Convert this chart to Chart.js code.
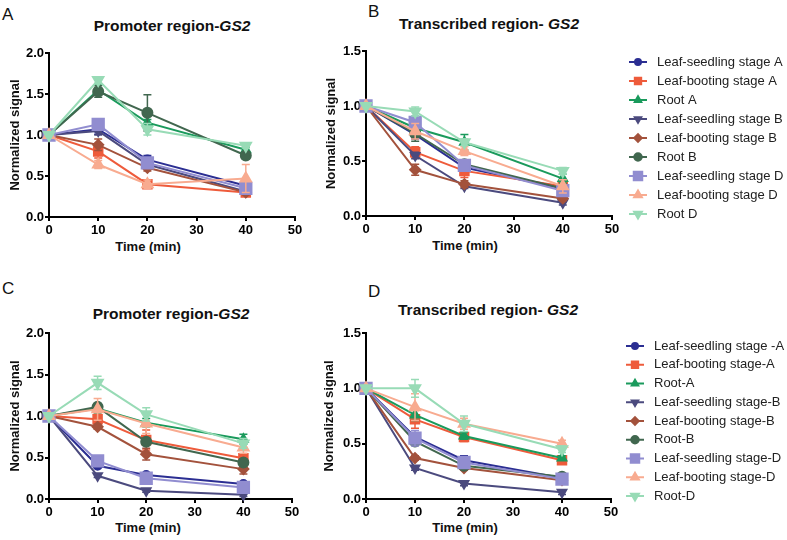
<!DOCTYPE html>
<html>
<head>
<meta charset="utf-8">
<script src="https://cdn.jsdelivr.net/npm/chart.js@4.4.1/dist/chart.umd.min.js"></script>
<style>
  body { margin: 0; background: #fff; width: 787px; height: 540px; position: relative; overflow: hidden; font-family: "Liberation Sans", Arial, sans-serif; }
  canvas { position: absolute; }
  .lbl { position: absolute; color: #111; white-space: nowrap; line-height: 1; }
  .letter { font-size: 17px; }
  .ttl { font-size: 15.5px; font-weight: bold; transform: translate(-50%, -50%); }
  .xt { font-size: 13px; font-weight: bold; transform: translate(-50%, -50%); }
</style>
</head>
<body>
<div class="lbl letter" style="left:2px;top:6px">A</div>
<div class="lbl letter" style="left:368px;top:3px">B</div>
<div class="lbl letter" style="left:2px;top:280px">C</div>
<div class="lbl letter" style="left:368px;top:283px">D</div>

<div class="lbl ttl" style="left:172px;top:26px">Promoter region-<i>GS2</i></div>
<div class="lbl ttl" style="left:489px;top:24px">Transcribed region- <i>GS2</i></div>
<div class="lbl ttl" style="left:171px;top:314px">Promoter region-<i>GS2</i></div>
<div class="lbl ttl" style="left:488px;top:310px">Transcribed region- <i>GS2</i></div>

<div class="lbl xt" style="left:148px;top:246px">Time (min)</div>
<div class="lbl xt" style="left:465px;top:245px">Time (min)</div>
<div class="lbl xt" style="left:148px;top:527px">Time (min)</div>
<div class="lbl xt" style="left:465px;top:527px">Time (min)</div>

<canvas id="chartA" width="310" height="270" style="left:0;top:0"></canvas>
<canvas id="chartB" width="471" height="270" style="left:316px;top:0"></canvas>
<canvas id="chartC" width="310" height="270" style="left:0;top:270px"></canvas>
<canvas id="chartD" width="471" height="270" style="left:316px;top:270px"></canvas>

<script>
// sampling times (min)
const times = [0, 10, 20, 40];

const seriesNamesTop = ['Leaf-seedling stage A', 'Leaf-booting stage A', 'Root A',
    'Leaf-seedling stage B', 'Leaf-booting stage B', 'Root B',
    'Leaf-seedling stage D', 'Leaf-booting stage D', 'Root D'];
const seriesNamesBottom = ['Leaf-seedling stage -A', 'Leaf-booting stage-A', 'Root-A',
    'Leaf-seedling stage-B', 'Leaf-booting stage-B', 'Root-B',
    'Leaf-seedling stage-D', 'Leaf-booting stage-D', 'Root-D'];

// rows follow the series order above
const promoterTopValues = [
    [1, 1.07, 0.70, 0.38],
    [1, 0.80, 0.40, 0.30],
    [1, 1.55, 1.15, 0.82],
    [1, 1.05, 0.64, 0.31],
    [1, 0.88, 0.60, 0.30],
    [1, 1.53, 1.27, 0.75],
    [1, 1.13, 0.66, 0.35],
    [1, 0.64, 0.40, 0.47],
    [1, 1.67, 1.07, 0.87],
];
const promoterTopErrors = [
    [0, 0.06, 0.05, 0.05],
    [0, 0.08, 0.03, 0.03],
    [0, 0.06, 0.04, 0.03],
    [0, 0.05, 0.04, 0.03],
    [0, 0.07, 0.04, 0.03],
    [0, 0.07, 0.22, 0.04],
    [0, 0.05, 0.04, 0.04],
    [0, 0.05, 0.05, 0.17],
    [0, 0.04, 0.07, 0.03],
];
const transcribedTopValues = [
    [1, 0.74, 0.44, 0.25],
    [1, 0.58, 0.41, 0.27],
    [1, 0.80, 0.67, 0.34],
    [1, 0.55, 0.27, 0.12],
    [1, 0.42, 0.29, 0.16],
    [1, 0.75, 0.47, 0.25],
    [1, 0.85, 0.46, 0.23],
    [1, 0.77, 0.59, 0.27],
    [1, 0.95, 0.67, 0.41],
];
const transcribedTopErrors = [
    [0, 0.04, 0.03, 0.02],
    [0, 0.05, 0.06, 0.04],
    [0, 0.03, 0.07, 0.04],
    [0, 0.03, 0.02, 0.02],
    [0, 0.05, 0.03, 0.02],
    [0, 0.07, 0.03, 0.03],
    [0, 0.06, 0.04, 0.05],
    [0, 0.07, 0.04, 0.06],
    [0, 0.04, 0.03, 0.03],
];
const promoterBottomValues = [
    [1, 0.40, 0.29, 0.18],
    [1, 0.96, 0.71, 0.49],
    [1, 1.09, 0.92, 0.72],
    [1, 0.28, 0.10, 0.05],
    [1, 0.87, 0.54, 0.36],
    [1, 1.11, 0.69, 0.44],
    [1, 0.46, 0.25, 0.14],
    [1, 1.08, 0.91, 0.62],
    [1, 1.40, 1.02, 0.67],
];
const promoterBottomErrors = [
    [0, 0.02, 0.02, 0.02],
    [0, 0.06, 0.12, 0.05],
    [0, 0.05, 0.05, 0.06],
    [0, 0.02, 0.02, 0.02],
    [0, 0.03, 0.07, 0.06],
    [0, 0.04, 0.04, 0.04],
    [0, 0.03, 0.03, 0.03],
    [0, 0.13, 0.12, 0.07],
    [0, 0.08, 0.08, 0.06],
];
const transcribedBottomValues = [
    [1, 0.56, 0.35, 0.19],
    [1, 0.72, 0.56, 0.35],
    [1, 0.76, 0.57, 0.37],
    [1, 0.28, 0.14, 0.06],
    [1, 0.37, 0.28, 0.17],
    [1, 0.52, 0.30, 0.20],
    [1, 0.55, 0.33, 0.18],
    [1, 0.83, 0.68, 0.50],
    [1, 1.00, 0.68, 0.45],
];
const transcribedBottomErrors = [
    [0, 0.03, 0.04, 0.02],
    [0, 0.08, 0.04, 0.02],
    [0, 0.05, 0.03, 0.02],
    [0, 0.02, 0.02, 0.02],
    [0, 0.02, 0.02, 0.02],
    [0, 0.03, 0.03, 0.02],
    [0, 0.07, 0.04, 0.03],
    [0, 0.12, 0.05, 0.03],
    [0, 0.08, 0.07, 0.03],
];

const seriesColors = ['#2b2e92', '#ee5b3b', '#1a9a5c', '#4b4a7e', '#a3523c',
    '#41674f', '#918dd0', '#f8ab90', '#98dbb6'];
const seriesStyles = [
    { style: 'circle', radius: 4, rotation: 0 },
    { style: 'rect', radius: 6, rotation: 0 },
    { style: 'triangle', radius: 5, rotation: 0 },
    { style: 'triangle', radius: 5, rotation: 180 },
    { style: 'rectRot', radius: 5, rotation: 0 },
    { style: 'circle', radius: 5, rotation: 0 },
    { style: 'rect', radius: 8, rotation: 0 },
    { style: 'triangle', radius: 6, rotation: 0 },
    { style: 'triangle', radius: 6, rotation: 180 },
];

const FONT = '"Liberation Sans", Arial, sans-serif';

const errorBarPlugin = {
    id: 'errorBars',
    beforeDatasetDraw(chart, args) {
        const ds = chart.data.datasets[args.index];
        if (!ds.errors) return;
        const yScale = chart.scales.y;
        const ctx = chart.ctx;
        ctx.save();
        ctx.strokeStyle = ds.borderColor;
        ctx.lineWidth = 1.5;
        args.meta.data.forEach((pt, j) => {
            const e = ds.errors[j];
            if (!e) return;
            const v = ds.data[j].y;
            const yTop = yScale.getPixelForValue(v + e);
            const yBot = yScale.getPixelForValue(v - e);
            ctx.beginPath();
            ctx.moveTo(pt.x, yTop); ctx.lineTo(pt.x, yBot);
            ctx.moveTo(pt.x - 4, yTop); ctx.lineTo(pt.x + 4, yTop);
            ctx.moveTo(pt.x - 4, yBot); ctx.lineTo(pt.x + 4, yBot);
            ctx.stroke();
        });
        ctx.restore();
    },
};

const sideLegendPlugin = {
    id: 'sideLegend',
    afterDraw(chart, args, opts) {
        if (!opts.show) return;
        const ctx = chart.ctx;
        ctx.save();
        chart.data.datasets.forEach((ds, i) => {
            const y = opts.top + i * opts.step;
            ctx.strokeStyle = ds.borderColor;
            ctx.fillStyle = ds.borderColor;
            ctx.lineWidth = 2;
            ctx.beginPath();
            ctx.moveTo(opts.x0, y);
            ctx.lineTo(opts.x1, y);
            ctx.stroke();
            Chart.helpers.drawPoint(ctx, {
                pointStyle: ds.pointStyle,
                radius: ds.pointRadius * 0.75,
                rotation: ds.pointRotation,
                borderWidth: 1,
            }, (opts.x0 + opts.x1) / 2, y);
            ctx.fillStyle = '#222';
            ctx.font = `13px ${FONT}`;
            ctx.textBaseline = 'middle';
            ctx.textAlign = 'left';
            ctx.fillText(ds.label, opts.textX, y);
        });
        ctx.restore();
    },
};

function buildDatasets(names, values, errors) {
    return names.map((name, i) => ({
        label: name,
        data: times.map((t, j) => ({ x: t, y: values[i][j] })),
        errors: errors[i],
        borderColor: seriesColors[i],
        backgroundColor: seriesColors[i],
        pointBackgroundColor: seriesColors[i],
        pointBorderColor: seriesColors[i],
        borderWidth: 2,
        pointRadius: seriesStyles[i].radius,
        pointStyle: seriesStyles[i].style,
        pointRotation: seriesStyles[i].rotation,
        tension: 0,
        clip: false,
        order: -i,
    }));
}

function makePanel(canvasId, cfg) {
    const ctx = document.getElementById(canvasId).getContext('2d');
    const axisGrid = { drawOnChartArea: false, drawTicks: true, tickLength: 4, color: '#000', lineWidth: 2 };
    const axisBorder = { display: true, color: '#000', width: 2 };
    return new Chart(ctx, {
        type: 'line',
        data: { datasets: buildDatasets(cfg.names, cfg.values, cfg.errors) },
        options: {
            responsive: false,
            animation: false,
            layout: { padding: cfg.padding },
            plugins: {
                legend: { display: false },
                tooltip: { enabled: false },
                sideLegend: cfg.legend,
            },
            scales: {
                x: {
                    type: 'linear',
                    min: 0,
                    max: 50,
                    ticks: { stepSize: 10, color: '#000', padding: 2, font: { family: FONT, size: 13, weight: 'bold' } },
                    grid: axisGrid,
                    border: axisBorder,
                    afterFit: (scale) => {
                        scale.height = cfg.xHeight;
                        scale.paddingLeft = 0;
                        scale.paddingRight = 0;
                    },
                },
                y: {
                    min: 0,
                    max: cfg.yMax,
                    ticks: {
                        stepSize: 0.5,
                        color: '#000',
                        padding: 1,
                        font: { family: FONT, size: 13, weight: 'bold' },
                        callback: (value) => value.toFixed(1),
                    },
                    title: {
                        display: true,
                        text: 'Normalized signal',
                        color: '#111',
                        font: { family: FONT, size: 13, weight: 'bold' },
                        padding: { top: cfg.yTitlePad, bottom: 0 },
                    },
                    grid: axisGrid,
                    border: axisBorder,
                    afterFit: (scale) => {
                        scale.width = cfg.yWidth;
                        scale.paddingTop = 0;
                        scale.paddingBottom = 0;
                    },
                },
            },
        },
        plugins: [errorBarPlugin, sideLegendPlugin],
    });
}

makePanel('chartA', {
    names: seriesNamesTop, values: promoterTopValues, errors: promoterTopErrors, yMax: 2,
    padding: { left: 0, top: 53, right: 15, bottom: 0 }, xHeight: 53, yWidth: 49, yTitlePad: 8,
    legend: { show: false },
});
makePanel('chartB', {
    names: seriesNamesTop, values: transcribedTopValues, errors: transcribedTopErrors, yMax: 1.5,
    padding: { left: 0, top: 51, right: 175, bottom: 0 }, xHeight: 54, yWidth: 50, yTitlePad: 8,
    legend: { show: true, top: 62, step: 19, x0: 313, x1: 331, textX: 341 },
});
makePanel('chartC', {
    names: seriesNamesBottom, values: promoterBottomValues, errors: promoterBottomErrors, yMax: 2,
    padding: { left: 0, top: 63, right: 18, bottom: 0 }, xHeight: 41, yWidth: 49, yTitlePad: 8,
    legend: { show: false },
});
makePanel('chartD', {
    names: seriesNamesBottom, values: transcribedBottomValues, errors: transcribedBottomErrors, yMax: 1.5,
    padding: { left: 0, top: 63, right: 176, bottom: 0 }, xHeight: 41, yWidth: 50, yTitlePad: 6,
    legend: { show: true, top: 76, step: 18.75, x0: 310, x1: 328, textX: 338 },
});
</script>
</body>
</html>
